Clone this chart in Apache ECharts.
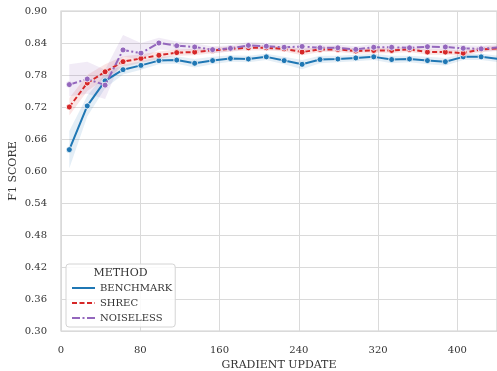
<!DOCTYPE html>
<html>
<head>
<meta charset="utf-8">
<script src="https://cdn.jsdelivr.net/npm/echarts@6/dist/echarts.min.js"></script>
<style>
  html, body { margin: 0; padding: 0; background: #ffffff; }
  #chart { width: 497px; height: 371px; }
</style>
</head>
<body>
<div id="chart"></div>
<script>
// Gradient update at which each evaluation was taken
const steps = [8.4, 26.5, 44.5, 62.6, 80.7, 98.8, 116.8, 134.9, 153.0, 171.0, 189.1, 207.2, 225.2,
  243.3, 261.4, 279.4, 297.5, 315.6, 333.7, 351.7, 369.8, 387.9, 405.9, 424.0, 442.1];

// Mean F1 score per method, with lower / upper confidence bounds
const benchmark   = [0.640, 0.722, 0.769, 0.790, 0.798, 0.807, 0.808, 0.802, 0.807, 0.811, 0.810, 0.814, 0.807,
  0.800, 0.809, 0.810, 0.812, 0.814, 0.809, 0.810, 0.807, 0.805, 0.814, 0.814, 0.810];
const benchmarkLo = [0.605, 0.702, 0.755, 0.781, 0.790, 0.800, 0.801, 0.794, 0.800, 0.805, 0.804, 0.808, 0.800,
  0.791, 0.802, 0.804, 0.806, 0.808, 0.802, 0.804, 0.800, 0.798, 0.808, 0.808, 0.804];
const benchmarkHi = [0.675, 0.741, 0.783, 0.799, 0.806, 0.814, 0.815, 0.810, 0.814, 0.817, 0.816, 0.820, 0.814,
  0.808, 0.816, 0.816, 0.818, 0.820, 0.816, 0.816, 0.814, 0.812, 0.820, 0.820, 0.816];

const shrec   = [0.720, 0.765, 0.786, 0.805, 0.811, 0.817, 0.822, 0.823, 0.826, 0.829, 0.831, 0.831, 0.829,
  0.823, 0.828, 0.828, 0.825, 0.826, 0.826, 0.828, 0.823, 0.823, 0.821, 0.828, 0.830];
const shrecLo = [0.704, 0.750, 0.773, 0.795, 0.803, 0.810, 0.816, 0.817, 0.821, 0.824, 0.826, 0.826, 0.824,
  0.817, 0.823, 0.823, 0.820, 0.821, 0.821, 0.823, 0.818, 0.818, 0.816, 0.823, 0.825];
const shrecHi = [0.737, 0.780, 0.800, 0.815, 0.819, 0.824, 0.828, 0.829, 0.831, 0.834, 0.836, 0.836, 0.834,
  0.829, 0.833, 0.833, 0.830, 0.831, 0.831, 0.833, 0.828, 0.828, 0.826, 0.833, 0.835];

const noiseless   = [0.762, 0.7725, 0.761, 0.827, 0.821, 0.840, 0.835, 0.8325, 0.8275, 0.830, 0.8355, 0.834, 0.832,
  0.8335, 0.831, 0.831, 0.828, 0.832, 0.832, 0.831, 0.833, 0.8325, 0.830, 0.829, 0.832];
const noiselessLo = [0.740, 0.745, 0.735, 0.815, 0.808, 0.828, 0.826, 0.826, 0.821, 0.824, 0.829, 0.828, 0.826,
  0.827, 0.825, 0.825, 0.822, 0.826, 0.826, 0.825, 0.827, 0.826, 0.824, 0.823, 0.826];
const noiselessHi = [0.800, 0.805, 0.790, 0.855, 0.840, 0.850, 0.843, 0.839, 0.834, 0.836, 0.842, 0.840, 0.838,
  0.840, 0.837, 0.837, 0.834, 0.838, 0.838, 0.837, 0.839, 0.839, 0.836, 0.835, 0.838];

const methodNames = ['BENCHMARK', 'SHREC', 'NOISELESS'];
const legendTitle = 'METHOD';
const xTitle = 'GRADIENT UPDATE';
const yTitle = 'F1 SCORE';

const FONT = 'DejaVu Serif';
const TEXT = '#333333';
const GRID = '#dadada';

const methods = [
  { name: methodNames[0], mean: benchmark, lo: benchmarkLo, hi: benchmarkHi,
    color: '#1f77b4', band: 'rgba(31,119,180,0.12)', dash: 'solid' },
  { name: methodNames[1], mean: shrec, lo: shrecLo, hi: shrecHi,
    color: '#d62728', band: 'rgba(214,39,40,0.12)', dash: [5, 2.5] },
  { name: methodNames[2], mean: noiseless, lo: noiselessLo, hi: noiselessHi,
    color: '#9467bd', band: 'rgba(148,103,189,0.13)', dash: [8, 2.5, 2, 2.5] }
];

// Confidence band drawn as one polygon through the axis scales
function bandSeries(m, z) {
  return {
    type: 'custom',
    name: m.name + ' band',
    silent: true,
    z: z,
    data: steps.map((x, i) => [x, m.lo[i], m.hi[i]]),
    renderItem: function (params, api) {
      if (params.dataIndex !== 0) return null;
      const pts = [];
      for (let i = 0; i < steps.length; i++) pts.push(api.coord([steps[i], m.hi[i]]));
      for (let i = steps.length - 1; i >= 0; i--) pts.push(api.coord([steps[i], m.lo[i]]));
      return {
        type: 'polygon',
        shape: { points: pts },
        style: { fill: m.band, stroke: null }
      };
    }
  };
}

function lineSeries(m, z) {
  return {
    type: 'line',
    name: m.name,
    z: z,
    clip: true,
    data: steps.map((x, i) => [x, m.mean[i]]),
    symbol: 'circle',
    symbolSize: 6,
    showSymbol: true,
    color: m.color,
    lineStyle: { color: m.color, width: 2, type: m.dash },
    itemStyle: { color: m.color, borderColor: '#ffffff', borderWidth: 0.8 },
    emphasis: { disabled: true },
    animation: false
  };
}

const series = [];
methods.forEach((m, i) => series.push(bandSeries(m, 2 + i)));
methods.forEach((m, i) => series.push(lineSeries(m, 6 + i)));

const chart = echarts.init(document.getElementById('chart'), null, { renderer: 'canvas' });
chart.setOption({
  animation: false,
  backgroundColor: '#ffffff',
  textStyle: { fontFamily: FONT },
  grid: {
    left: 61, right: 0, top: 11, bottom: 40,
    outerBoundsMode: 'none',
    containLabel: false,
    show: true, borderColor: '#cfcfcf', borderWidth: 1.2, backgroundColor: 'transparent'
  },
  xAxis: {
    type: 'value',
    min: 0, max: 440, interval: 80,
    name: xTitle,
    nameLocation: 'middle',
    nameGap: 29,
    nameMoveOverlap: false,
    nameTextStyle: { fontFamily: FONT, fontSize: 11, color: TEXT },
    axisLine: { show: false },
    axisTick: { show: false },
    axisLabel: {
      fontFamily: FONT, fontSize: 10, color: TEXT, margin: 14,
      showMaxLabel: false
    },
    splitLine: { show: true, lineStyle: { color: GRID, width: 1 } }
  },
  yAxis: {
    type: 'value',
    min: 0.30, max: 0.90, interval: 0.06,
    name: yTitle,
    nameLocation: 'middle',
    nameRotate: 90,
    nameGap: 42,
    nameMoveOverlap: false,
    nameTextStyle: { fontFamily: FONT, fontSize: 11, color: TEXT },
    axisLine: { show: false },
    axisTick: { show: false },
    axisLabel: {
      fontFamily: FONT, fontSize: 10, color: TEXT, margin: 14,
      formatter: v => v.toFixed(2)
    },
    splitLine: { show: true, lineStyle: { color: GRID, width: 1 } }
  },
  legend: {
    data: methodNames,
    orient: 'vertical',
    left: 66,
    top: 264,
    padding: [18, 3, 3, 5],
    itemGap: 3,
    itemWidth: 23,
    itemHeight: 2,
    backgroundColor: 'rgba(255,255,255,0.85)',
    borderColor: '#d4d4d4',
    borderWidth: 1,
    borderRadius: 3,
    selectedMode: false,
    textStyle: { fontFamily: FONT, fontSize: 10, color: TEXT, lineHeight: 12 },
    itemStyle: { color: 'rgba(0,0,0,0)', borderWidth: 0 }
  },
  graphic: [{
    type: 'text',
    z: 100,
    x: 120.5,
    y: 273,
    style: {
      text: legendTitle,
      fontFamily: FONT,
      fontSize: 11,
      fill: TEXT,
      align: 'center',
      verticalAlign: 'middle'
    }
  }],
  series: series
});
</script>
</body>
</html>
